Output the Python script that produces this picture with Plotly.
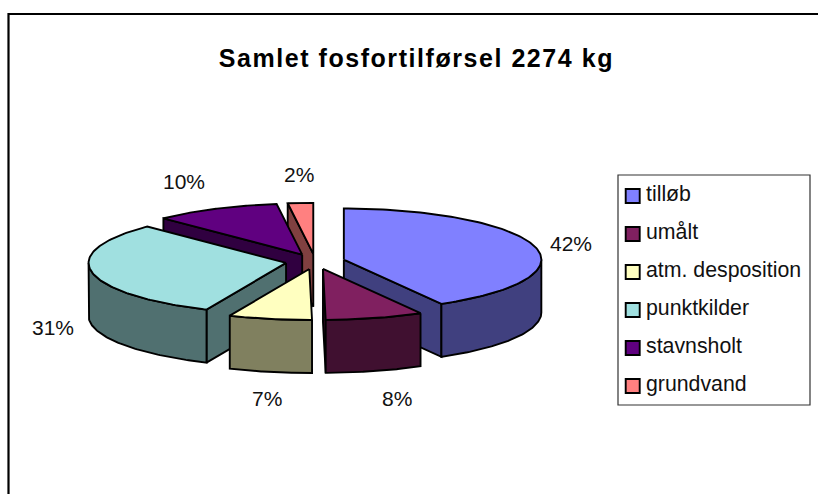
import numpy as np
import plotly.graph_objects as go

# ---- data (kg; the title gives the total, shares) ----
categories = ["tilløb", "umålt", "atm. desposition", "punktkilder", "stavnsholt", "grundvand"]
values_kg = [950, 182, 155, 705, 235, 47]
title_text = "Samlet fosfortilførsel 2274 kg"

# ---- styles ----
top_colors = ["#8080FF", "#802060", "#FFFFC0", "#A0E0E0", "#600080", "#FF8080"]
side_colors = ["#40407F", "#401030", "#80805F", "#507070", "#300040", "#804040"]
draw_order = [5, 4, 3, 0, 2, 1]
label_pos = [(571, 243), (397, 398), (267, 398), (53, 327), (184, 181), (299, 174)]

# ---- projection of the tilted pie, in pixel-scaled axes ----
CX, CY, A, B, DEPTH, EXPLODE = 315.2, 261.5, 197.5, 51.0, 53.0, 0.15
LINE = dict(color="#000000", width=1.9)
FONT = "Liberation Sans, Arial"


def px(center, deg):
    t = np.radians(deg)
    return center[0] + A * np.sin(t), center[1] - B * np.cos(t)


def face(fig, xs, ys, color):
    fig.add_trace(go.Scatter(x=list(xs), y=list(ys), mode="lines", fill="toself",
                             fillcolor=color, line=LINE, hoverinfo="skip", showlegend=False))


fig = go.Figure()
shares = np.array(values_kg, dtype=float) / sum(values_kg)
ends = np.cumsum(shares) * 360.0
starts = ends - shares * 360.0

for i in draw_order:
    s, e = starts[i], ends[i]
    mid = np.radians((s + e) / 2)
    c = (CX + EXPLODE * A * np.sin(mid), CY - EXPLODE * B * np.cos(mid))
    # cut faces that turn towards the viewer
    for deg, visible in ((s, 180 < s < 360), (e, 0 < e < 180)):
        if visible:
            x1, y1 = px(c, deg)
            face(fig, [c[0], x1, x1, c[0], c[0]],
                 [c[1], y1, y1 + DEPTH, c[1] + DEPTH, c[1]], side_colors[i])
    # outer wall, front half of the rim only
    lo, hi = max(s, 90.0), min(e, 270.0)
    if lo < hi:
        arc = np.linspace(lo, hi, 80)
        ax, ay = px(c, arc)
        face(fig, np.r_[ax, ax[::-1], ax[0]], np.r_[ay, ay[::-1] + DEPTH, ay[0]], side_colors[i])
    # top
    arc = np.linspace(s, e, 120)
    ax, ay = px(c, arc)
    face(fig, np.r_[c[0], ax, c[0]], np.r_[c[1], ay, c[1]], top_colors[i])

# ---- percentage labels ----
annotations = []
for share, (x, y) in zip(shares, label_pos):
    annotations.append(dict(x=x, y=y, text=f"{share * 100:.0f}%", showarrow=False,
                            font=dict(family=FONT, size=21, color="#111111")))

# ---- legend ----
for i, name in enumerate(categories):
    fig.add_trace(go.Scatter(x=[632.7], y=[196 + 38 * i], mode="markers",
                             marker=dict(symbol="square", size=14, color=top_colors[i],
                                         line=dict(color="#000000", width=1.9)),
                             hoverinfo="skip", showlegend=False))
    annotations.append(dict(x=644, y=194 + 38 * i, xanchor="left", text=name, showarrow=False,
                            font=dict(family=FONT, size=21.3, color="#111111")))

annotations.append(dict(x=416, y=57.5, text=f"<b>{title_text}</b>", showarrow=False,
                        font=dict(family=FONT, size=25, color="#000000")))

fig.update_layout(
    width=818, height=494, margin=dict(l=0, r=0, t=0, b=0),
    paper_bgcolor="white", plot_bgcolor="white", showlegend=False,
    xaxis=dict(range=[0, 818], visible=False, fixedrange=True),
    yaxis=dict(range=[494, 0], visible=False, fixedrange=True),
    shapes=[
        dict(type="rect", xref="x", yref="y", x0=8.5, y0=14, x1=840, y1=520,
             line=dict(color="#000000", width=2.2), layer="below"),
        dict(type="rect", xref="x", yref="y", x0=618, y0=175, x1=810, y1=405,
             line=dict(color="#333333", width=1.2), layer="below"),
    ],
    annotations=annotations,
)

fig.write_html(
    "out.html", config={"displayModeBar": False},
    post_script=(
        "document.body.style.margin='0';document.body.style.overflow='hidden';"
        "document.querySelectorAll('.annotation-text').forEach(function(t){"
        "if(t.textContent.indexOf('Samlet')===0){t.style.letterSpacing='1.55px';}});"
    ),
)
